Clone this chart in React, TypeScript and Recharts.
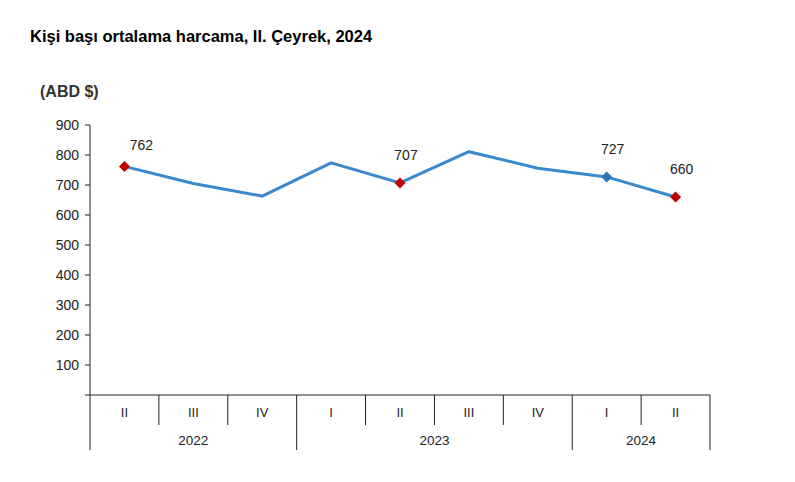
import { LineChart, Line, XAxis, YAxis } from 'recharts';

const quarters = ['II', 'III', 'IV', 'I', 'II', 'III', 'IV', 'I', 'II'];
const years = ['2022', '2022', '2022', '2023', '2023', '2023', '2023', '2024', '2024'];
const spending = [762, 705, 663, 774, 707, 811, 756, 727, 660];
// marker colour per point, '' = no marker / label
const markers = ['#C00000', '', '', '', '#C00000', '', '', '#2E75B6', '#C00000'];
const yTicks = [0, 100, 200, 300, 400, 500, 600, 700, 800, 900];

const data = quarters.map((q, i) => ({
  key: `${years[i]}-${q}-${i}`,
  quarter: q,
  year: years[i],
  value: spending[i],
  marker: markers[i],
}));

const FONT = 'Liberation Sans, Arial, sans-serif';

function QuarterTick(props: any) {
  const { x, y, payload, index } = props;
  const half = payload?.offset || 620 / quarters.length / 2;
  const i = index ?? payload.index;
  const isFirst = i === 0 || years[i - 1] !== years[i];
  const isLast = i === years.length - 1 || years[i + 1] !== years[i];
  let n = 0;
  if (isFirst) {
    for (let j = i; j < years.length && years[j] === years[i]; j++) n++;
  }
  const top = y - 8;
  return (
    <g>
      <text x={x} y={top + 22} textAnchor="middle" fontSize={13} fill="#222" fontFamily={FONT}>
        {quarters[i]}
      </text>
      {!isLast && <line x1={x + half} x2={x + half} y1={top} y2={top + 30} stroke="#222" />}
      {isLast && <line x1={x + half} x2={x + half} y1={top} y2={top + 55} stroke="#222" />}
      {i === 0 && <line x1={x - half} x2={x - half} y1={top} y2={top + 55} stroke="#222" />}
      {isFirst && (
        <text x={x - half + n * half} y={top + 50} textAnchor="middle" fontSize={13.5} fill="#222" fontFamily={FONT}>
          {years[i]}
        </text>
      )}
    </g>
  );
}

function Diamond(props: any) {
  const { cx, cy, payload } = props;
  if (!payload.marker) return <g key={payload.key} />;
  const s = 5.5;
  return (
    <path
      key={payload.key}
      d={`M${cx},${cy - s} L${cx + s},${cy} L${cx},${cy + s} L${cx - s},${cy} Z`}
      fill={payload.marker}
    />
  );
}

function ValueLabel(props: any) {
  const { x, y, value, index } = props;
  if (!markers[index]) return null;
  const dx = index === 0 ? 17 : 6;
  const dy = index === 0 ? 16 : 23;
  return (
    <text x={x + dx} y={y - dy} textAnchor="middle" fontSize={14} fill="#222" fontFamily={FONT}>
      {value}
    </text>
  );
}

export default function App() {
  return (
    <div style={{ position: 'absolute', left: 0, top: 0, width: 795, height: 482, background: '#fff' }}>
      <div
        style={{
          position: 'absolute',
          left: 30,
          top: 27,
          fontFamily: FONT,
          fontWeight: 'bold',
          fontSize: 16.5,
          color: '#000',
        }}
      >
        Kişi başı ortalama harcama, II. Çeyrek, 2024
      </div>
      <div
        style={{
          position: 'absolute',
          left: 40,
          top: 83,
          fontFamily: FONT,
          fontWeight: 'bold',
          fontSize: 16,
          color: '#333',
        }}
      >
        (ABD $)
      </div>
      <LineChart width={795} height={482} data={data} margin={{ top: 125, right: 85, bottom: 27, left: 40 }}>
        <XAxis
          dataKey="key"
          scale="band"
          height={60}
          interval={0}
          tickLine={false}
          axisLine={{ stroke: '#222' }}
          tick={<QuarterTick />}
        />
        <YAxis
          width={50}
          domain={[0, 900]}
          ticks={yTicks}
          interval={0}
          tickSize={5}
          tickMargin={6}
          tickLine={{ stroke: '#222' }}
          axisLine={{ stroke: '#222' }}
          tickFormatter={(v: number) => (v === 0 ? '' : String(v))}
          tick={{ fontSize: 14, fill: '#222', fontFamily: FONT }}
        />
        <Line
          type="linear"
          dataKey="value"
          stroke="#3A89CA"
          strokeWidth={3}
          dot={<Diamond />}
          activeDot={false}
          label={<ValueLabel />}
          isAnimationActive={false}
        />
      </LineChart>
    </div>
  );
}
